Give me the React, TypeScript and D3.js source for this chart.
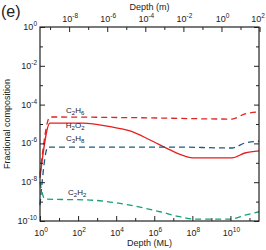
import * as d3 from 'd3'
import { useEffect, useRef } from 'react'

// depth in monolayers (ML) and fractional composition
const c2h6Depth = [1, 3.35, 1.8e5, 1.2e10, 5.8e10, 3.2e11]
const c2h6Value = [2.5e-8, 2.3e-5, 2.1e-5, 1.8e-5, 3.3e-5, 4.2e-5]

const h2o2Depth = [1, 3.35, 180, 4.8e3, 5.3e4, 6e5, 6.7e6, 4.1e7, 1.1e8, 1.2e10, 5.8e10, 3.2e11]
const h2o2Value = [1.7e-8, 1.1e-5, 1.1e-5, 7.3e-6, 4.4e-6, 1.5e-6, 4.6e-7, 2.2e-7, 1.8e-7, 1.8e-7, 3.2e-7, 4.1e-7]

const c3h8Depth = [1, 2.6, 8.5e6, 1.2e10, 5.8e10, 3.2e11]
const c3h8Value = [6.6e-10, 6.5e-7, 6.5e-7, 5.8e-7, 1.05e-6, 1.3e-6]

const c2h2Depth = [1, 1.8, 420, 5.3e4, 2e6, 2.2e7, 1.1e8, 9.5e9, 5.8e10, 3.2e11]
const c2h2Value = [1.0e-8, 1.35e-9, 1.2e-9, 6.6e-10, 3e-10, 1.66e-10, 1.26e-10, 1.26e-10, 2e-10, 3e-10]

const bottomTickExp = [0, 2, 4, 6, 8, 10]
const topTickExp = [-8, -6, -4, -2, 0, 2]
const leftTickExp = [0, -2, -4, -6, -8, -10]

const metresPerML = Math.pow(10, -9.53)

const App = () => {
    const svgRef = useRef<SVGSVGElement | null>(null)
    const width = 266
    const height = 250
    const margin = { top: 27, right: 7, bottom: 29, left: 40 }

    useEffect(() => {
        const svg = d3.select(svgRef.current)
        svg.selectAll('*').remove()

        const x = d3.scaleLog().domain([1, Math.pow(10, 11.5)]).range([margin.left, width - margin.right])
        const xTop = d3.scaleLog()
            .domain([1 * metresPerML, Math.pow(10, 11.5) * metresPerML])
            .range([margin.left, width - margin.right])
        const y = d3.scaleLog().domain([1e-10, 1]).range([height - margin.bottom, margin.top])

        const font = 'Liberation Sans, Arial, sans-serif'
        const ink = '#222'

        const series = [
            { depth: c2h6Depth, value: c2h6Value, color: '#e02424', dash: '6,4' },
            { depth: h2o2Depth, value: h2o2Value, color: '#e61e1e', dash: null },
            { depth: c3h8Depth, value: c3h8Value, color: '#1e5a82', dash: '6,4' },
            { depth: c2h2Depth, value: c2h2Value, color: '#17a077', dash: '6,4' },
        ]

        const line = d3.line<[number, number]>()
            .x(d => x(d[0]))
            .y(d => y(d[1]))
            .curve(d3.curveMonotoneX)

        const plot = svg.append('g')
        series.forEach(s => {
            const pts = s.depth.map((d, i) => [d, s.value[i]] as [number, number])
            plot.append('path')
                .attr('d', line(pts))
                .attr('fill', 'none')
                .attr('stroke', s.color)
                .attr('stroke-width', 1.3)
                .attr('stroke-dasharray', s.dash)
        })

        // ticks
        const decades = (a: number, b: number) => d3.range(a, b + 1).map(e => Math.pow(10, e))
        const bottomMajor = bottomTickExp.map(e => Math.pow(10, e))
        const bottomMinor = decades(0, 11).filter(v => !bottomMajor.includes(v))
        const topMajor = topTickExp.map(e => Math.pow(10, e))
        const topMinor = decades(-9, 2).filter(v => !topMajor.includes(v))
        const leftMajor = leftTickExp.map(e => Math.pow(10, e))
        const leftMinor = decades(-10, 0).filter(v => !leftMajor.includes(v))

        const addAxis = (axis: any, tx: number, ty: number) => {
            const g = svg.append('g').attr('transform', `translate(${tx},${ty})`).call(axis)
            g.select('.domain').remove()
            g.selectAll('line').attr('stroke', ink)
        }
        const bottomY = height - margin.bottom
        const rightX = width - margin.right
        addAxis(d3.axisBottom(x).tickValues(bottomMajor).tickSize(-5).tickFormat(() => ''), 0, bottomY)
        addAxis(d3.axisBottom(x).tickValues(bottomMinor).tickSize(-3).tickFormat(() => ''), 0, bottomY)
        addAxis(d3.axisTop(xTop).tickValues(topMajor).tickSize(-5).tickFormat(() => ''), 0, margin.top)
        addAxis(d3.axisTop(xTop).tickValues(topMinor).tickSize(-3).tickFormat(() => ''), 0, margin.top)
        addAxis(d3.axisLeft(y).tickValues(leftMajor).tickSize(-5).tickFormat(() => ''), margin.left, 0)
        addAxis(d3.axisLeft(y).tickValues(leftMinor).tickSize(-3).tickFormat(() => ''), margin.left, 0)
        addAxis(d3.axisRight(y).tickValues(leftMajor).tickSize(-5).tickFormat(() => ''), rightX, 0)
        addAxis(d3.axisRight(y).tickValues(leftMinor).tickSize(-3).tickFormat(() => ''), rightX, 0)

        svg.append('rect')
            .attr('x', margin.left)
            .attr('y', margin.top)
            .attr('width', rightX - margin.left)
            .attr('height', bottomY - margin.top)
            .attr('fill', 'none')
            .attr('stroke', ink)
            .attr('stroke-width', 1.2)

        const powerLabel = (px: number, py: number, exp: number, anchor: string) => {
            const t = svg.append('text')
                .attr('x', px)
                .attr('y', py)
                .attr('text-anchor', anchor)
                .attr('font-family', font)
                .attr('font-size', 9)
                .attr('fill', ink)
            t.append('tspan').text('10')
            t.append('tspan').attr('dy', -4).attr('font-size', 6.5).text(String(exp))
        }
        bottomTickExp.forEach(e => powerLabel(x(Math.pow(10, e)) + 1, bottomY + 15, e, 'middle'))
        topTickExp.forEach(e => {
            const px = Math.min(xTop(Math.pow(10, e)) + 1, width - 8)
            powerLabel(px, margin.top - 5, e, 'middle')
        })
        leftTickExp.forEach(e => powerLabel(margin.left - 3, y(Math.pow(10, e)) + 3, e, 'end'))

        svg.append('text')
            .attr('x', (margin.left + rightX) / 2)
            .attr('y', height - 4)
            .attr('text-anchor', 'middle')
            .attr('font-family', font)
            .attr('font-size', 9)
            .attr('fill', ink)
            .text('Depth (ML)')
        svg.append('text')
            .attr('x', (margin.left + rightX) / 2)
            .attr('y', 10)
            .attr('text-anchor', 'middle')
            .attr('font-family', font)
            .attr('font-size', 9)
            .attr('fill', ink)
            .text('Depth (m)')
        svg.append('text')
            .attr('transform', `translate(10,${(margin.top + bottomY) / 2}) rotate(-90)`)
            .attr('text-anchor', 'middle')
            .attr('font-family', font)
            .attr('font-size', 9)
            .attr('fill', ink)
            .text('Fractional composition')
        svg.append('text')
            .attr('x', 1)
            .attr('y', 17)
            .attr('font-family', font)
            .attr('font-size', 16)
            .attr('fill', ink)
            .text('(e)')

        // species labels
        const species = [
            { a: 'C', n1: '2', b: 'H', n2: '6', depth: 70, value: 3.5e-5 },
            { a: 'H', n1: '2', b: 'O', n2: '2', depth: 70, value: 6e-6 },
            { a: 'C', n1: '3', b: 'H', n2: '8', depth: 70, value: 1.4e-6 },
            { a: 'C', n1: '2', b: 'H', n2: '2', depth: 90, value: 2.3e-9 },
        ]
        species.forEach(s => {
            const t = svg.append('text')
                .attr('x', x(s.depth))
                .attr('y', y(s.value))
                .attr('text-anchor', 'middle')
                .attr('font-family', font)
                .attr('font-size', 8)
                .attr('fill', ink)
            t.append('tspan').text(s.a)
            t.append('tspan').attr('dy', 2).attr('font-size', 6).text(s.n1)
            t.append('tspan').attr('dy', -2).text(s.b)
            t.append('tspan').attr('dy', 2).attr('font-size', 6).text(s.n2)
        })
    }, [])

    return (
        <svg ref={svgRef} width={width} height={height} style={{ position: 'absolute', left: 0, top: 0, background: '#fff' }} />
    )
}

export default App
